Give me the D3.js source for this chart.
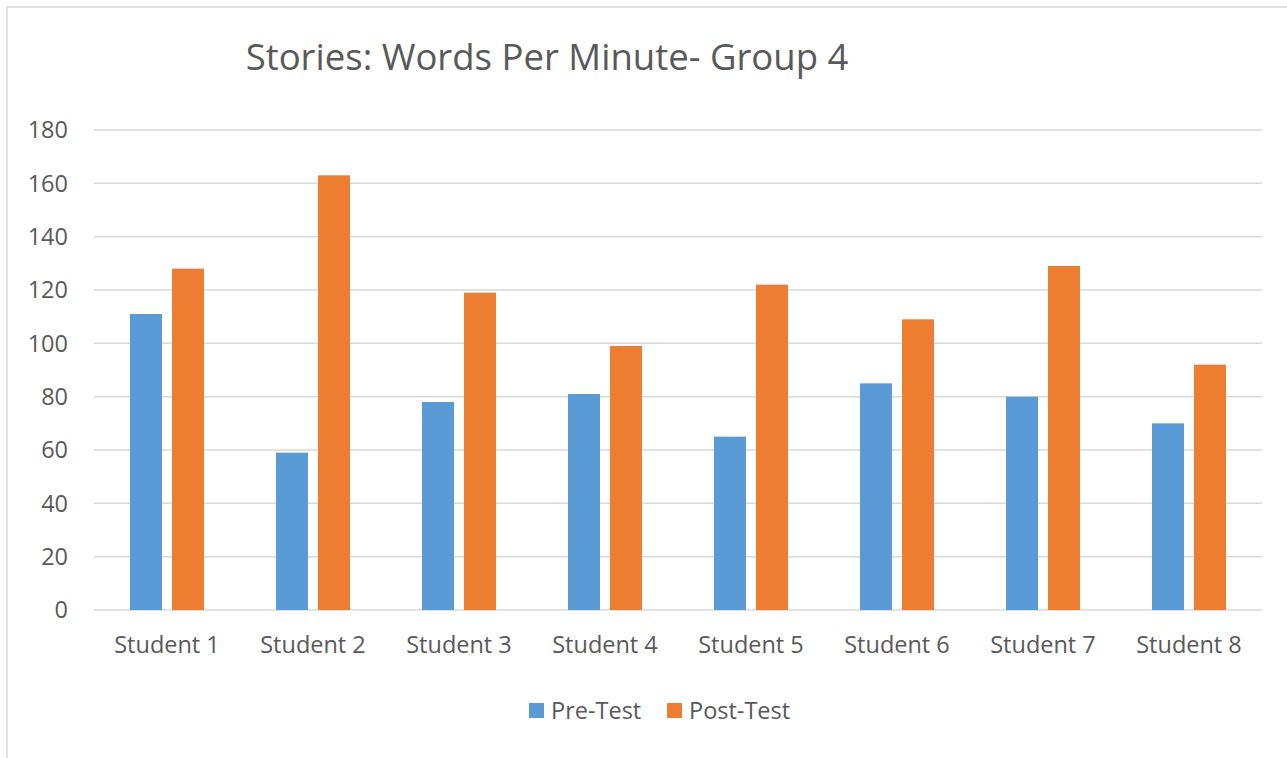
<!DOCTYPE html>
<html lang="en">
<head>
<meta charset="UTF-8">
<title>Stories: Words Per Minute- Group 4</title>
<style>
    body { margin: 0; padding: 0; background: #fff; }
    svg text { font-family: "Open Sans", "Liberation Sans", sans-serif; fill: #595959; }
    .grid line { stroke: #d9d9d9; stroke-width: 1.5px; }
</style>
</head>
<body>
<div id="chart"></div>
<script src="https://d3js.org/d3.v7.min.js"></script>
<script>
// chart data
const students = ["Student 1", "Student 2", "Student 3", "Student 4",
                  "Student 5", "Student 6", "Student 7", "Student 8"];
const seriesNames = ["Pre-Test", "Post-Test"];
const preTest  = [111, 59, 78, 81, 65, 85, 80, 70];
const postTest = [128, 163, 119, 99, 122, 109, 129, 92];
const yTicks = [0, 20, 40, 60, 80, 100, 120, 140, 160, 180];
const colors = ["#5b9bd5", "#ed7d31"];

const width = 1287, height = 758;
const margin = {top: 130, right: 25, bottom: 148, left: 94};
const labelSize = "23.5px";

const svg = d3.select("#chart").append("svg")
    .attr("width", width)
    .attr("height", height);

// outer chart border (cropped at right/bottom like the source)
svg.append("rect")
    .attr("x", 7).attr("y", 7)
    .attr("width", width + 20).attr("height", height + 20)
    .attr("fill", "none")
    .attr("stroke", "#d9d9d9")
    .attr("stroke-width", 1.5);

const x = d3.scaleBand()
    .domain(students)
    .range([margin.left, width - margin.right]);

const y = d3.scaleLinear()
    .domain([0, 180])
    .range([height - margin.bottom, margin.top]);

// gridlines
svg.append("g")
    .attr("class", "grid")
    .selectAll("line")
    .data(yTicks)
    .join("line")
    .attr("x1", margin.left)
    .attr("x2", width - margin.right)
    .attr("y1", d => y(d))
    .attr("y2", d => y(d));

// y axis labels
svg.append("g")
    .selectAll("text")
    .data(yTicks)
    .join("text")
    .attr("x", 68)
    .attr("y", d => y(d))
    .attr("dy", "0.35em")
    .attr("text-anchor", "end")
    .style("font-size", labelSize)
    .text(d => d);

// bars
const barW = 32, gap = 10;
const x1 = d3.scaleBand()
    .domain(seriesNames)
    .range([0, barW * 2 + gap])
    .paddingInner(gap / (barW + gap));

const rows = students.map((s, i) => ({student: s, values: [preTest[i], postTest[i]]}));

const groups = svg.append("g")
    .selectAll("g")
    .data(rows)
    .join("g")
    .attr("transform", d => `translate(${x(d.student) + (x.bandwidth() - (barW * 2 + gap)) / 2},0)`);

groups.selectAll("rect")
    .data(d => d.values.map((v, k) => ({name: seriesNames[k], value: v, k})))
    .join("rect")
    .attr("x", d => x1(d.name))
    .attr("width", x1.bandwidth())
    .attr("y", d => y(d.value))
    .attr("height", d => y(0) - y(d.value))
    .attr("fill", d => colors[d.k]);

// x axis labels
svg.append("g")
    .selectAll("text")
    .data(students)
    .join("text")
    .attr("x", d => x(d) + x.bandwidth() / 2)
    .attr("y", 645)
    .attr("dy", "0.35em")
    .attr("text-anchor", "middle")
    .style("font-size", labelSize)
    .text(d => d);

// title
svg.append("text")
    .attr("x", 547)
    .attr("y", 70)
    .attr("text-anchor", "middle")
    .style("font-size", "36.5px")
    .text("Stories: Words Per Minute- Group 4");

// legend
const legend = svg.append("g");
const legendX = [529, 667];
seriesNames.forEach((name, i) => {
    legend.append("rect")
        .attr("x", legendX[i]).attr("y", 703)
        .attr("width", 15).attr("height", 15)
        .attr("fill", colors[i]);
    legend.append("text")
        .attr("x", legendX[i] + 22).attr("y", 711)
        .attr("dy", "0.35em")
        .style("font-size", labelSize)
        .text(name);
});
</script>
</body>
</html>
